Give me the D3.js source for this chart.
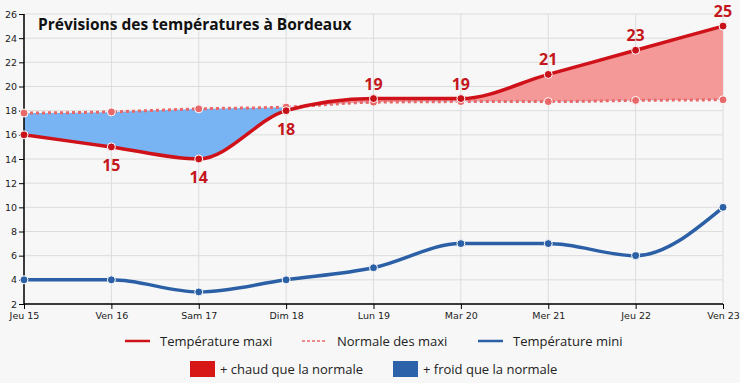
<!DOCTYPE html>
<html><head><meta charset="utf-8">
<script src="https://cdn.jsdelivr.net/npm/d3@7"></script>
<style>
html,body{margin:0;padding:0;background:#f7f7f7;}
svg{display:block;}
</style></head><body>
<svg id="c" width="740" height="383"></svg>
<script>
const days = ["Jeu 15","Ven 16","Sam 17","Dim 18","Lun 19","Mar 20","Mer 21","Jeu 22","Ven 23"];
const tmax = [16,15,14,18,19,19,21,23,25];
const tnorm = [17.8,17.9,18.15,18.3,18.7,18.75,18.75,18.85,18.9];
const tmin = [4,4,3,4,5,7,7,6,10];
const yTicks = [2,4,6,8,10,12,14,16,18,20,22,24,26];
const labelPos = ["below","below","below","below","above","above","above","above","above"];

const svg = d3.select("#c");
const W=740,H=383;
svg.append("rect").attr("width",W).attr("height",H).attr("fill","#f7f7f7");

const x = d3.scalePoint().domain(days).range([24,723]);
const y = d3.scaleLinear().domain([2,26]).range([304,14]);

// grid
const g = svg.append("g");
g.selectAll(".hg").data(yTicks).join("line")
 .attr("x1",24).attr("x2",723).attr("y1",d=>y(d)).attr("y2",d=>y(d))
 .attr("stroke","#dcdcdc").attr("stroke-width",1);
g.selectAll(".vg").data(days).join("line")
 .attr("x1",d=>x(d)).attr("x2",d=>x(d)).attr("y1",14).attr("y2",304)
 .attr("stroke","#dcdcdc").attr("stroke-width",1);

const curve = d3.curveMonotoneX;
const idx = d3.range(days.length);
const X = i=>x(days[i]);

// clip paths
const defs = svg.append("defs");
defs.append("clipPath").attr("id","above").append("path")
 .attr("d", d3.area().x(X).y0(0).y1(i=>y(tnorm[i])).curve(curve)(idx));
defs.append("clipPath").attr("id","below").append("path")
 .attr("d", d3.area().x(X).y0(H).y1(i=>y(tnorm[i])).curve(curve)(idx));

const between = d3.area().x(X).y0(i=>y(tnorm[i])).y1(i=>y(tmax[i])).curve(curve);
svg.append("path").attr("d",between(idx)).attr("fill","#f59898").attr("clip-path","url(#above)");
svg.append("path").attr("d",between(idx)).attr("fill","#78b4f4").attr("clip-path","url(#below)");

// axes
const yAxis = d3.axisLeft(y).tickValues(yTicks).tickSize(5).tickPadding(2);
const ya = svg.append("g").attr("transform","translate(24,0)").call(yAxis);
const xAxis = d3.axisBottom(x).tickSize(5).tickPadding(3);
const xa = svg.append("g").attr("transform","translate(0,304)").call(xAxis);
[ya,xa].forEach(a=>{
  a.select(".domain").attr("stroke","#000").attr("stroke-width",1.5);
  a.selectAll(".tick line").attr("stroke","#000");
  a.selectAll("text").attr("font-family","DejaVu Sans, Verdana, sans-serif").attr("font-size","9.5px").attr("fill","#222");
});
xa.select(".domain").attr("d","M24,0H723");
ya.select(".domain").attr("d","M0,14V304");

const line = d3.line().x(X).curve(curve);

// normal dotted
svg.append("path").attr("d",line.y(i=>y(tnorm[i]))(idx))
 .attr("fill","none").attr("stroke","#e8686a").attr("stroke-width",3).attr("stroke-dasharray","3,3");
// min line
svg.append("path").attr("d",d3.line().x(X).y(i=>y(tmin[i])).curve(curve)(idx))
 .attr("fill","none").attr("stroke","#2b5fa6").attr("stroke-width",3.5);
// max line
svg.append("path").attr("d",d3.line().x(X).y(i=>y(tmax[i])).curve(curve)(idx))
 .attr("fill","none").attr("stroke","#cf1219").attr("stroke-width",3.5);

// markers
svg.selectAll(".mn").data(idx).join("circle").attr("cx",X).attr("cy",i=>y(tnorm[i])).attr("r",4)
 .attr("fill","#e8686a").attr("stroke","#fff").attr("stroke-width",1);
svg.selectAll(".mi").data(idx).join("circle").attr("cx",X).attr("cy",i=>y(tmin[i])).attr("r",4)
 .attr("fill","#2b5fa6").attr("stroke","#fff").attr("stroke-width",1);
svg.selectAll(".ma").data(idx).join("circle").attr("cx",X).attr("cy",i=>y(tmax[i])).attr("r",4)
 .attr("fill","#c8121a").attr("stroke","#fff").attr("stroke-width",1);

// data labels
svg.selectAll(".dl").data(idx.slice(1)).join("text")
 .attr("x",X).attr("y",i=> labelPos[i]==="below" ? y(tmax[i])+24 : y(tmax[i])-9)
 .attr("text-anchor","middle").attr("font-family","Open Sans, sans-serif").attr("font-weight","bold")
 .attr("font-size","16px").attr("fill","#c4161c").text(i=>tmax[i]);

// title
svg.append("text").attr("x",38).attr("y",30).attr("font-family","Open Sans, sans-serif")
 .attr("font-weight","bold").attr("font-size","15.5px").attr("fill","#111")
 .text("Prévisions des températures à Bordeaux");

// legend
const lf = "Open Sans, sans-serif";
const leg1 = [
 {x:125, label:"Température maxi", color:"#cf1219", dash:null},
 {x:302, label:"Normale des maxi", color:"#e8686a", dash:"3,2"},
 {x:478, label:"Température mini", color:"#2b5fa6", dash:null}
];
leg1.forEach(d=>{
  svg.append("line").attr("x1",d.x).attr("x2",d.x+25).attr("y1",341).attr("y2",341)
   .attr("stroke",d.color).attr("stroke-width",d.dash?1.5:2.5).attr("stroke-dasharray",d.dash);
  svg.append("text").attr("x",d.x+35).attr("y",346).attr("font-family",lf).attr("font-size","13px")
   .attr("fill","#222").text(d.label);
});
const leg2 = [
 {x:190, label:"+ chaud que la normale", color:"#d71616"},
 {x:393, label:"+ froid que la normale", color:"#2b62aa"}
];
leg2.forEach(d=>{
  svg.append("rect").attr("x",d.x).attr("y",361).attr("width",25).attr("height",16).attr("fill",d.color);
  svg.append("text").attr("x",d.x+30).attr("y",374).attr("font-family",lf).attr("font-size","13px")
   .attr("fill","#222").text(d.label);
});
</script>
</body></html>
